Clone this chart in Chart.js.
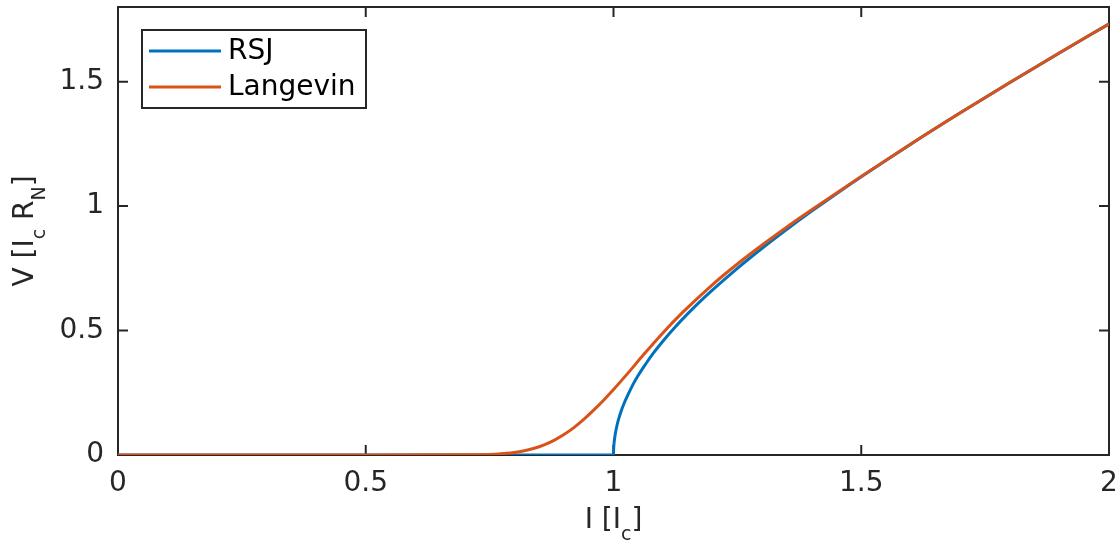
<!DOCTYPE html>
<html>
<head>
<meta charset="utf-8">
<script src="https://cdn.jsdelivr.net/npm/chart.js@4"></script>
<style>
  html, body { margin: 0; padding: 0; background: #fff; }
  #wrap { width: 1120px; height: 541px; position: relative; }
</style>
</head>
<body>
<div id="wrap"><canvas id="chart"></canvas></div>
<script>
// current I in units of I_c
const rsjCurrent = [0, 0.5, 1.0, 1.0001, 1.0005, 1.001, 1.002, 1.004, 1.007, 1.01, 1.015, 1.02, 1.03, 1.04, 1.05, 1.065, 1.08, 1.1, 1.125, 1.15, 1.175, 1.2, 1.25, 1.3, 1.35, 1.4, 1.45, 1.5, 1.6, 1.7, 1.8, 1.9, 2.0];
const rsjVoltage = [0, 0, 0, 0.0141, 0.0316, 0.0447, 0.0633, 0.0895, 0.1185, 0.1418, 0.1738, 0.2010, 0.2452, 0.2857, 0.3202, 0.3656, 0.4079, 0.4583, 0.5154, 0.5679, 0.6171, 0.6633, 0.75, 0.8307, 0.9069, 0.9798, 1.05, 1.118, 1.249, 1.3748, 1.4967, 1.6155, 1.7321];

const langevinCurrent = [0, 0.5, 0.7, 0.76, 0.78, 0.8, 0.82, 0.84, 0.86, 0.88, 0.9, 0.92, 0.94, 0.96, 0.98, 1.0, 1.03, 1.06, 1.1, 1.14, 1.2, 1.25, 1.3, 1.35, 1.4, 1.5, 1.6, 1.7, 1.8, 1.9, 2.0];
const langevinVoltage = [0, 0, 0.001, 0.003, 0.006, 0.010, 0.017, 0.027, 0.041, 0.059, 0.082, 0.110, 0.143, 0.180, 0.220, 0.263, 0.331, 0.4015, 0.4915, 0.574, 0.685, 0.7675, 0.8435, 0.916, 0.985, 1.1195, 1.2495, 1.375, 1.497, 1.616, 1.732];

const xTicks = [0, 0.5, 1, 1.5, 2];
const yTicks = [0, 0.5, 1, 1.5];

const AXIS = "#262626";
const FONT = "DejaVu Sans";
const SIZE = 28;

const toPoints = (xs, ys) => xs.map((x, i) => ({ x, y: ys[i] }));

// draws "main_sub" style text, centred at x=0 on baseline y=0
const drawSubText = (ctx, parts, size, subSize, subShift) => {
  const widths = parts.map((p) => {
    ctx.font = `${p.sub ? subSize : size}px ${FONT}`;
    return ctx.measureText(p.t).width;
  });
  let x = -widths.reduce((a, b) => a + b, 0) / 2;
  parts.forEach((p, i) => {
    ctx.font = `${p.sub ? subSize : size}px ${FONT}`;
    ctx.fillText(p.t, x, p.sub ? subShift : 0);
    x += widths[i];
  });
};

const framePlugin = {
  id: "frame",
  beforeDatasetsDraw(chart) {
    const { ctx, chartArea: a, scales } = chart;
    ctx.save();
    ctx.strokeStyle = AXIS;
    ctx.lineWidth = 2;
    ctx.strokeRect(a.left, a.top, a.right - a.left, a.bottom - a.top);
    const tl = 10;
    ctx.beginPath();
    xTicks.forEach((v) => {
      const px = scales.x.getPixelForValue(v);
      ctx.moveTo(px, a.bottom); ctx.lineTo(px, a.bottom - tl);
      ctx.moveTo(px, a.top); ctx.lineTo(px, a.top + tl);
    });
    yTicks.forEach((v) => {
      const py = scales.y.getPixelForValue(v);
      ctx.moveTo(a.left, py); ctx.lineTo(a.left + tl, py);
      ctx.moveTo(a.right, py); ctx.lineTo(a.right - tl, py);
    });
    ctx.stroke();
    ctx.restore();
  },
  afterDatasetsDraw(chart) {
    const { ctx, chartArea: a } = chart;
    ctx.save();
    // legend
    const bx = 142, by = 30, bw = 224, bh = 78;
    ctx.fillStyle = "#fff";
    ctx.fillRect(bx, by, bw, bh);
    ctx.strokeStyle = AXIS;
    ctx.lineWidth = 2;
    ctx.strokeRect(bx, by, bw, bh);
    chart.data.datasets.forEach((ds, i) => {
      const y = 51 + i * 36;
      ctx.strokeStyle = ds.borderColor;
      ctx.lineWidth = 3;
      ctx.beginPath();
      ctx.moveTo(149, y); ctx.lineTo(221, y);
      ctx.stroke();
      ctx.fillStyle = "#000";
      ctx.font = `${SIZE}px ${FONT}`;
      ctx.textBaseline = "middle";
      ctx.textAlign = "left";
      ctx.fillText(ds.label, 228, y + 1);
    });
    // axis titles
    ctx.fillStyle = AXIS;
    ctx.textBaseline = "alphabetic";
    ctx.textAlign = "left";
    ctx.save();
    ctx.translate((a.left + a.right) / 2, 528);
    drawSubText(ctx, [{ t: "I [I" }, { t: "c", sub: true }, { t: "]" }], SIZE, 19, 12);
    ctx.restore();
    ctx.save();
    ctx.translate(33, (a.top + a.bottom) / 2);
    ctx.rotate(-Math.PI / 2);
    drawSubText(ctx, [{ t: "V [I" }, { t: "c", sub: true }, { t: " R" }, { t: "N", sub: true }, { t: "]" }], SIZE, 19, 12);
    ctx.restore();
    ctx.restore();
  },
};

const tickLabel = (v) => String(v);

new Chart(document.getElementById("chart"), {
  type: "scatter",
  data: {
    datasets: [
      {
        label: "RSJ",
        data: toPoints(rsjCurrent, rsjVoltage),
        borderColor: "#0072BD",
        backgroundColor: "#0072BD",
        showLine: true,
        pointRadius: 0,
        borderWidth: 3,
        cubicInterpolationMode: "monotone",
        order: 1,
      },
      {
        label: "Langevin",
        data: toPoints(langevinCurrent, langevinVoltage),
        borderColor: "#D95319",
        backgroundColor: "#D95319",
        showLine: true,
        pointRadius: 0,
        borderWidth: 3,
        cubicInterpolationMode: "monotone",
        order: 0,
      },
    ],
  },
  options: {
    responsive: true,
    maintainAspectRatio: false,
    animation: false,
    layout: { padding: { top: 7, right: 11, left: 0, bottom: 0 } },
    plugins: {
      legend: { display: false },
      tooltip: { enabled: false },
    },
    scales: {
      x: {
        type: "linear",
        min: 0,
        max: 2,
        grid: { display: false, drawTicks: false },
        border: { display: false },
        afterBuildTicks: (scale) => { scale.ticks = xTicks.map((value) => ({ value })); },
        afterFit: (scale) => {
          scale.height = 86;
          scale.paddingLeft = 0;
          scale.paddingRight = 0;
        },
        ticks: {
          color: AXIS,
          font: { family: FONT, size: SIZE },
          padding: 12,
          maxRotation: 0,
          callback: tickLabel,
        },
      },
      y: {
        type: "linear",
        min: 0,
        max: 1.8,
        grid: { display: false, drawTicks: false },
        border: { display: false },
        afterBuildTicks: (scale) => { scale.ticks = yTicks.map((value) => ({ value })); },
        afterFit: (scale) => {
          scale.width = 118;
          scale.paddingTop = 0;
          scale.paddingBottom = 0;
        },
        ticks: {
          color: AXIS,
          font: { family: FONT, size: SIZE },
          padding: 14,
          callback: tickLabel,
        },
      },
    },
  },
  plugins: [framePlugin],
});
</script>
</body>
</html>
